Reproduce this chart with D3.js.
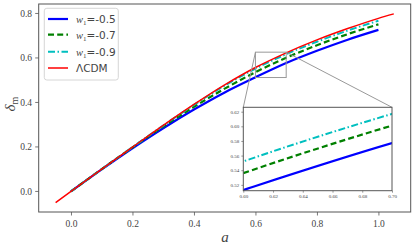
<!DOCTYPE html>
<html><head><meta charset="utf-8">
<script src="https://cdn.jsdelivr.net/npm/d3@7"></script>
<style>body{margin:0;background:#fff}svg{display:block}</style>
</head><body>
<svg id="c" width="415" height="248"></svg>
<script>
const aW = [0,0.1,0.2,0.3,0.4,0.5,0.6,0.7,0.8,0.9,1.0];
const w05 = [0,0.099,0.194,0.284,0.368,0.445,0.513,0.577,0.632,0.682,0.726];
const w07 = [0,0.100,0.198,0.292,0.380,0.462,0.536,0.601,0.657,0.707,0.751];
const w09 = [0,0.100,0.199,0.296,0.389,0.476,0.552,0.617,0.673,0.723,0.767];
const aL = [-0.05,0,0.1,0.2,0.3,0.4,0.5,0.6,0.7,0.8,0.9,1.0,1.05];
const lcdm = [-0.05,0,0.100,0.199,0.297,0.391,0.479,0.557,0.623,0.681,0.732,0.778,0.798];
const xTicks = [0.0,0.2,0.4,0.6,0.8,1.0];
const yTicks = [0.0,0.2,0.4,0.6,0.8];
const insXTicks = [0.60,0.62,0.64,0.66,0.68,0.70];
const insYTicks = [0.52,0.54,0.56,0.58,0.60,0.62];
const labels = ["-0.5","-0.7","-0.9"];

const svg = d3.select("#c");
const serif = "'Liberation Serif','DejaVu Serif',serif";
const sans = "'DejaVu Sans',sans-serif";
const tc = "#444", sc = "#555";

const x = d3.scaleLinear().domain([-0.105,1.105]).range([38.7,410.7]);
const y = d3.scaleLinear().domain([-0.0925,0.8425]).range([212,4]);

const series = [
  {a:aW, v:w05, color:"#0000ff", dash:null, w:2.2},
  {a:aW, v:w07, color:"#008000", dash:"6,3.2", w:2.2},
  {a:aW, v:w09, color:"#00bfbf", dash:"7,2.5,1.5,2.5", w:2},
  {a:aL, v:lcdm, color:"#ff0000", dash:null, w:1.5}
];

function drawLines(g, xs, ys, list){
  const line = d3.line().x(d=>xs(d[0])).y(d=>ys(d[1])).curve(d3.curveMonotoneX);
  list.forEach(s=>{
    g.append("path").attr("d", line(s.a.map((a,i)=>[a,s.v[i]])))
      .attr("fill","none").attr("stroke",s.color).attr("stroke-width",s.w)
      .attr("stroke-dasharray",s.dash);
  });
}

const main = svg.append("g");
drawLines(main, x, y, series);

// axes
const xa = svg.append("g").attr("transform","translate(0,212)")
  .call(d3.axisBottom(x).tickValues(xTicks).tickFormat(d3.format(".1f")).tickSize(3.5).tickPadding(5));
xa.select(".domain").remove();
xa.selectAll("line").attr("stroke",sc).attr("stroke-width",0.8);
xa.selectAll("text").attr("font-family",serif).attr("font-size",9.5).attr("fill",tc);

// y ticks drawn explicitly
const yg = svg.append("g");
yg.selectAll("line").data(yTicks).join("line")
  .attr("x1",35.2).attr("x2",38.7).attr("y1",d=>y(d)).attr("y2",d=>y(d))
  .attr("stroke",sc).attr("stroke-width",0.8);
yg.selectAll("text").data(yTicks).join("text")
  .attr("x",32).attr("y",d=>y(d)).attr("dy","0.33em").attr("text-anchor","end")
  .attr("font-family",serif).attr("font-size",9.5).attr("fill",tc)
  .text(d=>d3.format(".1f")(d));

svg.append("rect").attr("x",38.7).attr("y",4).attr("width",372).attr("height",208)
  .attr("fill","none").attr("stroke",sc).attr("stroke-width",1);

// zoom box in main
const zx0=x(0.6), zx1=x(0.7), zy0=y(0.626), zy1=y(0.512);
svg.append("rect").attr("x",zx0).attr("y",zy0).attr("width",zx1-zx0).attr("height",zy1-zy0)
  .attr("fill","none").attr("stroke","#999").attr("stroke-width",1);

// inset
const ix = d3.scaleLinear().domain([0.6,0.7]).range([243.3,392]);
const iy = d3.scaleLinear().domain([0.512,0.626]).range([190.7,107.3]);
svg.append("line").attr("x1",zx0).attr("y1",zy0).attr("x2",243.3).attr("y2",107.3).attr("stroke","#999").attr("stroke-width",1);
svg.append("line").attr("x1",zx1).attr("y1",zy0).attr("x2",392).attr("y2",107.3).attr("stroke","#999").attr("stroke-width",1);
svg.append("rect").attr("x",243.3).attr("y",107.3).attr("width",392-243.3).attr("height",190.7-107.3).attr("fill","#fff");
svg.append("clipPath").attr("id","ic").append("rect").attr("x",243.3).attr("y",107.3).attr("width",392-243.3).attr("height",190.7-107.3);
const ig = svg.append("g").attr("clip-path","url(#ic)");
drawLines(ig, ix, iy, series.slice(0,3));
const ixa = svg.append("g").attr("transform","translate(0,190.7)")
  .call(d3.axisBottom(ix).tickValues(insXTicks).tickFormat(d3.format(".2f")).tickSize(2).tickPadding(2));
const iya = svg.append("g").attr("transform","translate(243.3,0)")
  .call(d3.axisLeft(iy).tickValues(insYTicks).tickFormat(d3.format(".2f")).tickSize(2).tickPadding(2));
[ixa,iya].forEach(a=>{
  a.select(".domain").remove();
  a.selectAll("line").attr("stroke",sc).attr("stroke-width",0.6);
  a.selectAll("text").attr("font-family",serif).attr("font-size",5).attr("fill",tc);
});
svg.append("rect").attr("x",243.3).attr("y",107.3).attr("width",392-243.3).attr("height",190.7-107.3)
  .attr("fill","none").attr("stroke",sc).attr("stroke-width",1);

// labels
svg.append("text").attr("x",225).attr("y",242).attr("text-anchor","middle")
  .attr("font-family",serif).attr("font-style","italic").attr("font-size",15).attr("fill",tc).text("a");
const yl = svg.append("text").attr("transform","translate(15,104) rotate(-90)").attr("text-anchor","middle")
  .attr("font-family",serif).attr("fill",tc);
yl.append("tspan").attr("font-style","italic").attr("font-size",15).text("δ");
yl.append("tspan").attr("font-size",10).attr("dy",3).text("m");

// legend
const lg = svg.append("g");
lg.append("rect").attr("x",44.3).attr("y",8.3).attr("width",74).attr("height",71.7).attr("rx",2.5)
  .attr("fill","#fff").attr("fill-opacity",0.85).attr("stroke","#ccc").attr("stroke-width",0.8);
const rows = [19,34.7,51.7,68];
series.forEach((s,i)=>{
  lg.append("line").attr("x1",48).attr("x2",68).attr("y1",rows[i]).attr("y2",rows[i])
    .attr("stroke",s.color).attr("stroke-width",s.w).attr("stroke-dasharray",s.dash);
  const t = lg.append("text").attr("x",76).attr("y",rows[i]+4).attr("font-size",10.5).attr("fill",tc);
  if(i<3){
    t.append("tspan").attr("font-family",serif).attr("font-style","italic").text("w");
    t.append("tspan").attr("font-family",serif).attr("font-size",7).attr("dy",2).text("1");
    t.append("tspan").attr("font-family",sans).attr("dy",-2).text("="+labels[i]);
  } else {
    t.attr("font-family",sans).text("ΛCDM");
  }
});
</script>
</body></html>
